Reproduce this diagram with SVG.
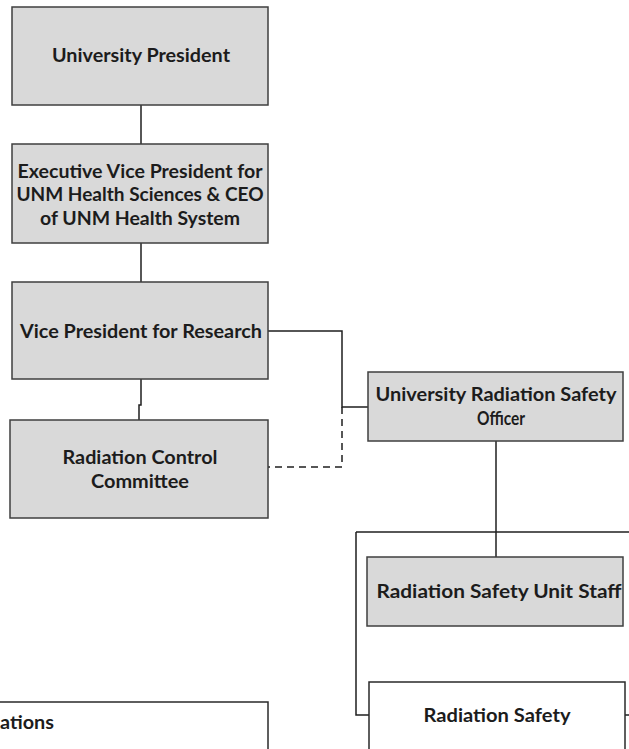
<svg xmlns="http://www.w3.org/2000/svg" width="629" height="749" viewBox="0 0 629 749">
<style>
.box{fill:#d9d9d9;stroke:#3f3f3f;stroke-width:1.5}
.wbox{fill:#ffffff;stroke:#2a2a2a;stroke-width:1.5}
.t{font-family:Lato,"Liberation Sans",Arial,sans-serif;font-weight:bold;font-size:18px;fill:#1c1c1c;text-anchor:middle}
.c{fill:none;stroke:#1f1f1f;stroke-width:1.5}
.d{fill:none;stroke:#1f1f1f;stroke-width:1.5;stroke-dasharray:7 5}
</style>
<rect width="629" height="749" fill="#ffffff"/>
<g id="connectors">
<path class="c" d="M141 105V144"/>
<path class="c" d="M141 243V282"/>
<path class="c" d="M141 379V405H139V420"/>
<path class="c" d="M268 331H342V407H368"/>
<path class="d" d="M342 407V467H268"/>
<path class="c" d="M496 441V557"/>
<path class="c" d="M356 532H629"/>
<path class="c" d="M356 532V715H369"/>
<path class="c" d="M625 715H629"/>
</g>
<g id="n1"><rect class="box" x="12" y="7" width="256" height="98"/><text class="t" x="141" y="62" textLength="178" lengthAdjust="spacingAndGlyphs">University President</text></g>
<g id="n2"><rect class="box" x="12" y="144" width="256" height="99"/>
<text class="t" x="140" y="178" textLength="245" lengthAdjust="spacingAndGlyphs">Executive Vice President for</text>
<text class="t" x="140" y="201" textLength="247" lengthAdjust="spacingAndGlyphs">UNM Health Sciences &amp; CEO</text>
<text class="t" x="140" y="225" textLength="200" lengthAdjust="spacingAndGlyphs">of UNM Health System</text></g>
<g id="n3"><rect class="box" x="12" y="282" width="256" height="97"/><text class="t" x="141" y="338" textLength="242" lengthAdjust="spacingAndGlyphs">Vice President for Research</text></g>
<g id="n4"><rect class="box" x="10" y="420" width="258" height="98"/>
<text class="t" x="140" y="464" textLength="155" lengthAdjust="spacingAndGlyphs">Radiation Control</text>
<text class="t" x="140" y="488" textLength="98" lengthAdjust="spacingAndGlyphs">Committee</text></g>
<g id="n5"><rect class="box" x="368" y="372" width="255" height="69"/>
<text class="t" x="496" y="401" textLength="241" lengthAdjust="spacingAndGlyphs">University Radiation Safety</text>
<text class="t" x="501" y="425" textLength="48" lengthAdjust="spacingAndGlyphs">Officer</text></g>
<g id="n6"><rect class="box" x="367" y="557" width="256" height="69"/><text class="t" x="499" y="598" textLength="245" lengthAdjust="spacingAndGlyphs">Radiation Safety Unit Staff</text></g>
<g id="n7"><rect class="wbox" x="369" y="682" width="256" height="80"/><text class="t" x="497" y="722" textLength="147" lengthAdjust="spacingAndGlyphs">Radiation Safety</text></g>
<g id="n8"><rect class="wbox" x="-20" y="702" width="288" height="60"/><text class="t" x="27" y="729" textLength="54" lengthAdjust="spacingAndGlyphs">ations</text></g>
</svg>
